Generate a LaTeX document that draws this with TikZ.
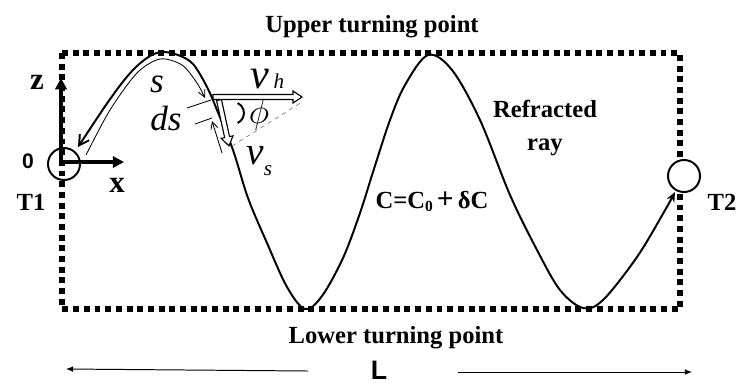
\documentclass[tikz,border=0pt]{standalone}
\usepackage{fontspec}
\setmainfont{Liberation Serif}
\setsansfont{Liberation Sans}
\usetikzlibrary{arrows.meta}
\usetikzlibrary{positioning}
\tikzset{
text_bold/.style={font=\bfseries\fontsize{17.5}{20}\selectfont, inner sep=0pt, anchor=base},
text_axis/.style={font=\bfseries\fontsize{22}{24}\selectfont, inner sep=0pt, anchor=base},
text_sans/.style={font=\sffamily\bfseries\fontsize{15}{18}\selectfont, inner sep=0pt, anchor=base},
math_big/.style={font=\itshape\fontsize{25}{28}\selectfont, inner sep=0pt, anchor=base},
math_sub/.style={font=\itshape\fontsize{15}{18}\selectfont, inner sep=0pt, anchor=base},
border_dots/.style={line width=4.2pt, dash pattern=on 4.2pt off 3.4pt},
ray_line/.style={line width=1.4pt},
thin_arrow/.style={line width=0.6pt, -{Straight Barb[length=5pt,width=5pt]}},
axis_arrow/.style={line width=2.6pt, -{Triangle[length=8pt,width=8pt]}},
station/.style={circle, draw, line width=1.4pt, minimum size=0.8cm, inner sep=0pt},
hollow_arrow/.style={draw, line width=0.8pt, fill=white, line join=miter},
span_arrow/.style={line width=0.7pt, -{Latex[length=5pt,width=4pt]}}
}
\newcommand{\hollowshape}[1]{(0,-2.5) -- ({#1-9},-2.5) -- ({#1-9},-6) -- (#1,0) -- ({#1-9},6) -- ({#1-9},2.5) -- (0,2.5) -- cycle}

\begin{document}
\begin{tikzpicture}[x=0.025cm, y=-0.025cm]
    \useasboundingbox (0,0) rectangle (740,383);
    \draw[border_dots] (62,53) rectangle (680,309);
    \node[text_bold] (upper_label) at (372,32) {Upper turning point};
    \node[text_bold] (lower_label) at (396,343) {Lower turning point};
    \node[text_bold] (refracted_label) at (545,117) {Refracted};
    \node[text_bold] (ray_label) at (545,150) {ray};
    \node[text_bold] (speed_label) at (432,208) {C=C\raisebox{-0.3ex}{\fontsize{11}{12}\selectfont 0}\,{\fontsize{21}{22}\selectfont +}\,δC};
    \node[station] (t1) at (64,164) {};
    \node[station, fill=white] (t2) at (684,176) {};
    \node[text_bold] (t1_label) at (31,210) {T1};
    \node[text_bold] (t2_label) at (722,210) {T2};
    \node[text_sans] (zero_label) at (28,168) {0};
    \coordinate (origin) at (61,162);
    \coordinate (z_tip) at (61,78);
    \coordinate (x_tip) at (124,162);
    \draw[axis_arrow] (origin) -- (z_tip);
    \draw[axis_arrow] (origin) -- (x_tip);
    \node[text_axis] (z_label) at (37,89) {z};
    \node[text_axis] (x_label) at (117,192) {x};
    \draw[ray_line, {Straight Barb[length=7pt,width=8pt]}-{Stealth[length=7pt,width=6pt]}]
        plot[smooth, tension=0.55] coordinates {(78,147) (113,95) (133,70) (150,56) (163,52) (178,55)
        (193,64) (207,87) (217,110) (233,150) (248,198) (267,243) (287,287) (305,309)
        (322,296) (343,258) (360,213) (373,172) (390,120) (405,85) (428,55) (452,70)
        (480,120) (510,195) (537,250) (560,290) (583,308) (603,300) (637,257) (664,212) (675,192)};
    \draw[thin_arrow] plot[smooth] coordinates {(86,155) (110,110) (137,73) (160,59) (182,65) (197,83) (205,98)};
    \draw[line width=0.6pt] (187,108) -- (211,100);
    \draw[line width=0.6pt] (195,124) -- (212,118);
    \coordinate (ds_start) at (222,153);
    \coordinate (ds_end) at (212,121);
    \draw[thin_arrow] (ds_start) -- (ds_end);
    \draw[hollow_arrow, shift={(219,100)}, rotate=-77.7] \hollowshape{47};
    \draw[hollow_arrow, shift={(213,97)}] \hollowshape{89};
    \coordinate (vs_tip) at (232,146);
    \coordinate (vh_tip) at (302,102);
    \draw[dashed, line width=0.5pt, gray] (vs_tip) -- (vh_tip);
    \draw[line width=1.4pt] (233,113) ++(-65:11) arc[start angle=-65, end angle=65, radius=11];
    \node[math_big] (s_label) at (157,92) {s};
    \node[math_big] (ds_label) at (166,130) {ds};
    \node[math_big, font=\itshape\fontsize{30}{32}\selectfont] (vh_label) at (260,88) {v};
    \node[math_sub] (vh_sub) at (279,88) {h};
    \node[math_big, font=\itshape\fontsize{28}{32}\selectfont] (vs_label) at (255,164) {v};
    \node[math_sub] (vs_sub) at (268,175) {s};
    \node[inner sep=0pt, font=\fontsize{25}{28}\selectfont] (phi_label) at (259,115) {$\phi$};
    \node[text_sans, font=\sffamily\bfseries\fontsize{19}{22}\selectfont] (l_label) at (379,379) {L};
    \coordinate (l_left_end) at (66,369);
    \coordinate (l_left_start) at (308,371);
    \coordinate (l_right_start) at (458,372);
    \coordinate (l_right_end) at (692,372);
    \draw[span_arrow] (l_left_start) -- (l_left_end);
    \draw[span_arrow] (l_right_start) -- (l_right_end);
\end{tikzpicture}
\end{document}
